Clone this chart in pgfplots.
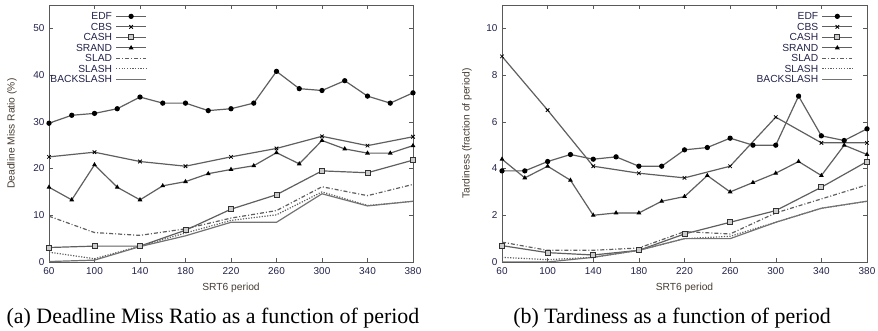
\documentclass[border=0pt]{standalone}
\usepackage{fontspec}
\setmainfont{Liberation Serif}
\newfontfamily\axfont{Liberation Sans}
\usepackage{pgfplots}
\pgfplotsset{compat=1.18}
\definecolor{lg}{RGB}{95,95,95}
\definecolor{tickc}{RGB}{35,35,75}
\definecolor{labc}{RGB}{70,60,50}
\pgfplotsset{
 myax/.style={
  scale only axis, height=257bp,
  xmin=60, xmax=380, xtick={60,100,...,380},
  axis line style={draw=black!65, line width=0.6bp},
  tick align=inside, major tick length=4bp,
  tick style={black!65, line width=0.5bp},
  every tick label/.append style={font=\axfont\fontsize{10}{12}\selectfont, text=tickc},
  xticklabel style={yshift=-2.5bp},
  yticklabel style={xshift=-1bp},
  /pgf/number format/assume math mode=true,
  label style={font=\axfont\fontsize{10.3}{12}\selectfont, text=labc},
  xlabel style={at={(axis description cs:0.5,-0.1)}, anchor=center},
  legend style={draw=none, fill=none, font=\axfont\fontsize{10.3}{12}\selectfont, text=tickc,
    row sep=0pt, column sep=2bp, inner sep=0pt, cells={anchor=east},
    nodes={text height=7.3bp, text depth=0.2bp, inner sep=1.5bp}},
  legend plot pos=right,
  legend image code/.code={\draw[mark repeat=2,mark phase=2,##1] plot coordinates {(0bp,0bp)(15bp,0bp)(30bp,0bp)};},
  every axis plot/.append style={line width=1.2bp, lg},
 },
 edf/.style={mark=*, mark size=2bp, mark options={solid, fill=black, draw=black}},
 cbs/.style={mark=x, mark size=2.5bp, mark options={solid, draw=black, line width=0.8bp}},
 cash/.style={mark=square*, mark size=2.5bp, mark options={solid, draw=black!80, fill=black!20, line width=0.8bp}},
 srand/.style={mark=triangle*, mark size=1.6bp, mark options={solid, fill=black, draw=black}},
 slad/.style={dash pattern=on 4bp off 2bp on 1bp off 2bp},
 slash/.style={dash pattern=on 1.2bp off 1.5bp},
 bslash/.style={color=black!55},
}
\begin{document}
\begin{tikzpicture}
\path[use as bounding box] (0,0) rectangle (878bp,331bp);
\begin{axis}[myax, width=364bp, at={(49bp,69bp)}, anchor=south west,
  ymin=0, ymax=55, ytick={0,10,...,50},
  xlabel={SRT6 period}, ylabel={Deadline Miss Ratio (\%)},
  ylabel style={at={(axis description cs:-0.102,0.5)}, anchor=center},
  legend style={at={(0.269,0.977)}, anchor=north east}]
\addplot[edf] coordinates {(60,29.7)(80,31.4)(100,31.8)(120,32.8)(140,35.3)(160,34.0)(180,34.0)(200,32.4)(220,32.8)(240,34.0)(260,40.8)(280,37.1)(300,36.7)(320,38.8)(340,35.5)(360,34.0)(380,36.2)};
\addlegendentry{EDF}
\addplot[cbs] coordinates {(60,22.5)(100,23.5)(140,21.5)(180,20.5)(220,22.5)(260,24.3)(300,26.9)(340,24.9)(380,26.8)};
\addlegendentry{CBS}
\addplot[cash] coordinates {(60,3.1)(100,3.4)(140,3.4)(180,6.8)(220,11.3)(260,14.4)(300,19.5)(340,19.1)(380,21.8)};
\addlegendentry{CASH}
\addplot[srand] coordinates {(60,16.0)(80,13.3)(100,20.8)(120,16.0)(140,13.3)(160,16.3)(180,17.2)(200,18.9)(220,19.8)(240,20.6)(260,23.4)(280,21.0)(300,26.0)(320,24.2)(340,23.3)(360,23.3)(380,24.9)};
\addlegendentry{SRAND}
\addplot[slad] coordinates {(60,9.8)(100,6.3)(140,5.7)(180,7.1)(220,9.4)(260,11.0)(300,16.1)(340,14.2)(380,16.6)};
\addlegendentry{SLAD}
\addplot[slash] coordinates {(60,2.1)(100,0.7)(140,3.4)(180,6.2)(220,8.9)(260,10.1)(300,15.0)(340,12.1)(380,13.0)};
\addlegendentry{SLASH}
\addplot[bslash] coordinates {(60,0.1)(100,0.4)(140,3.3)(180,5.6)(220,8.5)(260,8.5)(300,14.6)(340,12.0)(380,13.0)};
\addlegendentry{BACKSLASH}
\end{axis}
\begin{axis}[myax, width=365bp, at={(502bp,69bp)}, anchor=south west,
  ymin=0, ymax=11, ytick={0,2,...,10},
  xlabel={SRT6 period}, ylabel={Tardiness (fraction of period)},
  ylabel style={at={(axis description cs:-0.096,0.5)}, anchor=center},
  legend style={at={(0.962,0.977)}, anchor=north east}]
\addplot[edf] coordinates {(60,3.9)(80,3.9)(100,4.3)(120,4.6)(140,4.4)(160,4.5)(180,4.1)(200,4.1)(220,4.8)(240,4.9)(260,5.3)(280,5.0)(300,5.0)(320,7.1)(340,5.4)(360,5.2)(380,5.7)};
\addlegendentry{EDF}
\addplot[cbs] coordinates {(60,8.8)(100,6.5)(140,4.1)(180,3.8)(220,3.6)(260,4.1)(300,6.2)(340,5.1)(380,5.1)};
\addlegendentry{CBS}
\addplot[cash] coordinates {(60,0.7)(100,0.4)(140,0.3)(180,0.5)(220,1.2)(260,1.7)(300,2.2)(340,3.2)(380,4.3)};
\addlegendentry{CASH}
\addplot[srand] coordinates {(60,4.4)(80,3.6)(100,4.1)(120,3.5)(140,2.0)(160,2.1)(180,2.1)(200,2.6)(220,2.8)(240,3.7)(260,3.0)(280,3.4)(300,3.8)(320,4.3)(340,3.7)(360,5.0)(380,4.6)};
\addlegendentry{SRAND}
\addplot[slad] coordinates {(60,0.85)(100,0.5)(140,0.5)(180,0.6)(220,1.3)(260,1.2)(300,2.1)(340,2.7)(380,3.3)};
\addlegendentry{SLAD}
\addplot[slash] coordinates {(60,0.2)(100,0.1)(140,0.2)(180,0.5)(220,1.0)(260,1.1)(300,1.7)(340,2.3)(380,2.6)};
\addlegendentry{SLASH}
\addplot[bslash] coordinates {(60,0.0)(100,0.0)(140,0.2)(180,0.5)(220,1.0)(260,1.0)(300,1.7)(340,2.3)(380,2.6)};
\addlegendentry{BACKSLASH}
\end{axis}
\node[font=\fontsize{22}{25}\selectfont, anchor=center] at (213bp,13bp) {(a) Deadline Miss Ratio as a function of period};
\node[font=\fontsize{22}{25}\selectfont, anchor=center] at (672bp,13bp) {(b) Tardiness as a function of period};
\end{tikzpicture}
\end{document}
